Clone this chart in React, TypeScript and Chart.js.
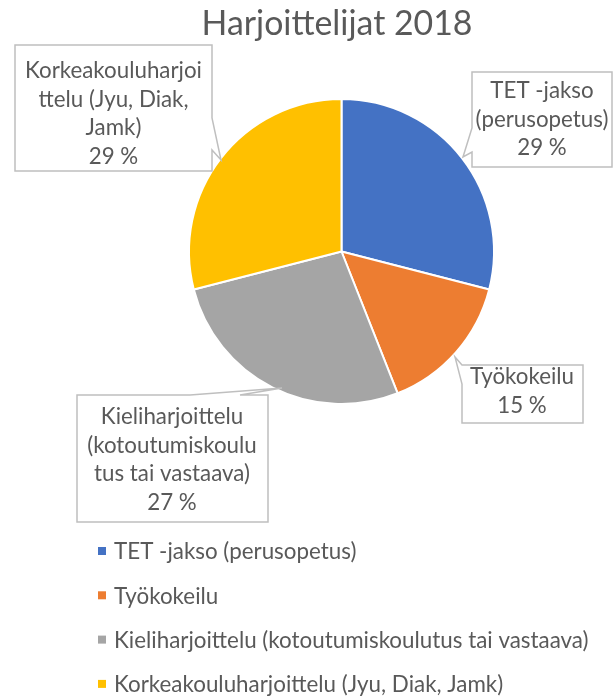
import { useEffect, useRef } from "react";
import { Chart, registerables } from "chart.js";

Chart.register(...registerables);

// ---- data ----
const chartTitle = "Harjoittelijat 2018";
const categories = [
  "TET -jakso (perusopetus)",
  "Työkokeilu",
  "Kieliharjoittelu (kotoutumiskoulutus tai vastaava)",
  "Korkeakouluharjoittelu (Jyu, Diak, Jamk)",
];
const values = [29, 15, 27, 29];
const sliceColors = ["#4472C4", "#ED7D31", "#A5A5A5", "#FFC000"];
const calloutLines = [
  ["TET -jakso", "(perusopetus)"],
  ["Työkokeilu"],
  ["Kieliharjoittelu", "(kotoutumiskoulu", "tus tai vastaava)"],
  ["Korkeakouluharjoi", "ttelu (Jyu, Diak,", "Jamk)"],
];

// ---- styles / layout ----
const FONT = "Lato, 'Noto Sans', sans-serif";
const TEXT = "#595959";
const BORDER = "#BFBFBF";

type Callout = { poly: number[][]; cx: number; y0: number };
const callouts: Callout[] = [
  {
    poly: [[472, 72], [612, 72], [612, 167], [472, 167], [472, 152], [463, 157], [472, 128]],
    cx: 542, y0: 98,
  },
  {
    poly: [[455, 357], [462, 365], [583, 365], [583, 423], [462, 423], [462, 384]],
    cx: 522, y0: 384,
  },
  {
    poly: [[77, 395], [190, 395], [282, 388], [240, 395], [268, 395], [268, 522], [77, 522]],
    cx: 172, y0: 424,
  },
  {
    poly: [[15, 45], [212, 45], [212, 118], [221, 160], [212, 150], [212, 171], [15, 171]],
    cx: 113.5, y0: 78,
  },
];

function fitSize(ctx: CanvasRenderingContext2D, text: string, target: number) {
  ctx.font = `20px ${FONT}`;
  const w = ctx.measureText(text).width;
  return (20 * target) / w;
}

const overlayPlugin = {
  id: "overlay",
  afterDraw(chart: any) {
    const ctx: CanvasRenderingContext2D = chart.ctx;
    ctx.save();
    // title
    const ts = fitSize(ctx, chartTitle, 271);
    ctx.font = `${ts}px ${FONT}`;
    ctx.fillStyle = TEXT;
    ctx.textAlign = "center";
    ctx.textBaseline = "alphabetic";
    ctx.fillText(chartTitle, 337, 35);

    // callouts
    const total = values.reduce((a, b) => a + b, 0);
    const cs = fitSize(ctx, "Korkeakouluharjoi", 177);
    callouts.forEach((c, i) => {
      ctx.beginPath();
      c.poly.forEach(([x, y], k) => (k ? ctx.lineTo(x, y) : ctx.moveTo(x, y)));
      ctx.closePath();
      ctx.fillStyle = "#ffffff";
      ctx.fill();
      ctx.strokeStyle = BORDER;
      ctx.lineWidth = 1.5;
      ctx.stroke();
      const lines = [...calloutLines[i], `${Math.round((values[i] / total) * 100)} %`];
      ctx.font = `${cs}px ${FONT}`;
      ctx.fillStyle = TEXT;
      ctx.textAlign = "center";
      ctx.textBaseline = "alphabetic";
      lines.forEach((l, k) => ctx.fillText(l, c.cx, c.y0 + k * 28.5));
    });

    // legend
    const ls = fitSize(ctx, categories[2], 475);
    ctx.font = `${ls}px ${FONT}`;
    ctx.textAlign = "left";
    ctx.textBaseline = "middle";
    categories.forEach((cat, i) => {
      const cy = 551 + i * 44.3;
      ctx.fillStyle = sliceColors[i];
      ctx.fillRect(98, cy - 4, 8, 8);
      ctx.fillStyle = TEXT;
      ctx.fillText(cat, 114, cy + 1);
    });
    ctx.restore();
  },
};

export default function App() {
  const ref = useRef<HTMLCanvasElement>(null);
  useEffect(() => {
    if (!ref.current) return;
    const chart = new Chart(ref.current, {
      type: "pie",
      data: {
        labels: categories,
        datasets: [
          {
            data: values,
            backgroundColor: sliceColors,
            borderColor: "#ffffff",
            borderWidth: 2,
            hoverOffset: 0,
            offset: 0,
          },
        ],
      },
      options: {
        responsive: false,
        animation: false,
        layout: { padding: { left: 188, right: 119, top: 98, bottom: 292 } },
        plugins: {
          legend: { display: false },
          title: { display: false },
          tooltip: { enabled: false },
        },
        events: [],
      },
      plugins: [overlayPlugin],
    });
    return () => chart.destroy();
  }, []);
  return (
    <div style={{ position: "fixed", left: 0, top: 0, width: 614, height: 697, background: "#fff" }}>
      <canvas ref={ref} width={614} height={697} style={{ width: 614, height: 697 }} />
    </div>
  );
}
